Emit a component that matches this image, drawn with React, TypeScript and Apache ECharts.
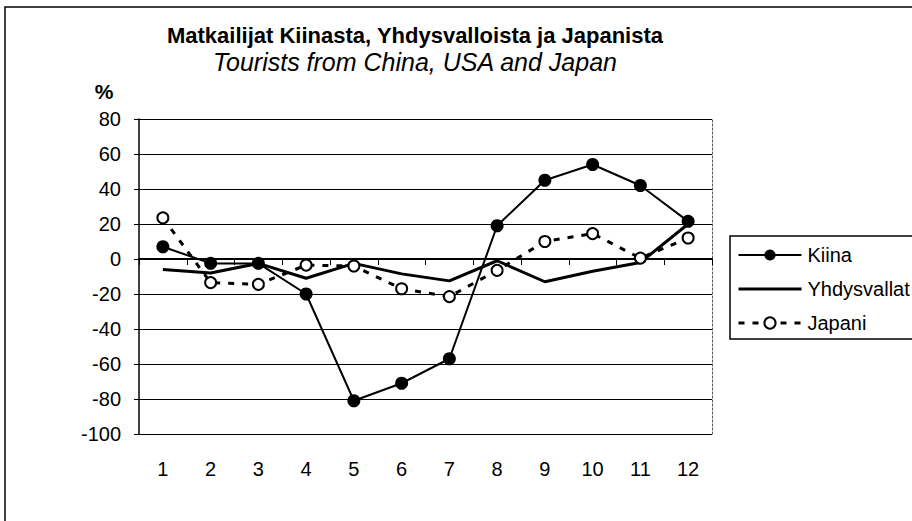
import React, { useEffect, useRef } from "react";
import * as echarts from "echarts";

const months = ["1", "2", "3", "4", "5", "6", "7", "8", "9", "10", "11", "12"];
const kiina = [7, -2.5, -2.5, -20, -81, -71, -57, 19, 45, 54, 42, 21.5];
const yhdysvallat = [-6, -8, -2.5, -11, -2.5, -8.5, -12.5, -1, -13, -7, -2, 20];
const japani = [23.5, -13.5, -14.5, -3.5, -4, -17, -21.5, -6.5, 10, 14.5, 0.5, 12];
const seriesNames = ["Kiina", "Yhdysvallat", "Japani"];
const yMin = -100;
const yMax = 80;
const yStep = 20;
const titleText = "Matkailijat Kiinasta, Yhdysvalloista ja Japanista";
const subtitleText = "Tourists from China, USA and Japan";
const unitText = "%";

export default function App() {
  const ref = useRef<HTMLDivElement>(null);
  useEffect(() => {
    const chart = echarts.init(ref.current!, null, { renderer: "svg" });
    const font = "'Liberation Sans', Arial, Helvetica, sans-serif";
    chart.setOption({
      animation: false,
      backgroundColor: "#fff",
      textStyle: { fontFamily: font, color: "#000" },
      grid: { left: 139, right: 200, top: 119, bottom: 87 },
      xAxis: {
        type: "category",
        data: months,
        boundaryGap: true,
        axisLine: { show: true, lineStyle: { color: "#000", width: 2 } },
        axisTick: { show: true, length: 6, alignWithLabel: false, lineStyle: { color: "#000", width: 1 } },
        axisLabel: { color: "#000", fontSize: 20, margin: 25, fontFamily: font },
        splitLine: { show: false },
      },
      yAxis: [
        {
          type: "value",
          min: yMin,
          max: yMax,
          interval: yStep,
          axisLine: { show: true, lineStyle: { color: "#000", width: 1.5 } },
          axisTick: { show: true, length: 5, inside: false, lineStyle: { color: "#000", width: 1 } },
          axisLabel: { color: "#000", fontSize: 20, margin: 18, fontFamily: font },
          splitLine: { show: true, lineStyle: { color: "#000", width: 1 } },
        },
        {
          type: "value",
          position: "right",
          min: yMin,
          max: yMax,
          interval: yStep,
          axisLine: { show: true, lineStyle: { color: "#555", width: 1, type: [2, 2] } },
          axisTick: { show: false },
          axisLabel: { show: false },
          splitLine: { show: false },
        },
      ],
      legend: {
        orient: "vertical",
        left: 730,
        top: 236,
        itemWidth: 63,
        itemHeight: 14,
        itemGap: 14,
        padding: [9, 30, 6, 7],
        borderColor: "#000",
        borderWidth: 1.5,
        backgroundColor: "#fff",
        textStyle: { color: "#000", fontSize: 20, lineHeight: 20, fontFamily: font, padding: [0, 0, 0, 1] },
        lineStyle: { width: "inherit" },
        data: [
          { name: seriesNames[0] },
          { name: seriesNames[1], icon: "path://M0,0L63,0L63,3L0,3Z" },
          { name: seriesNames[2] },
        ],
      },
      graphic: [
        {
          type: "rect",
          shape: { x: 5, y: 7, width: 1200, height: 1000 },
          style: { fill: "none", stroke: "#000", lineWidth: 1.5 },
          silent: true,
          z: -1,
        },
        {
          type: "text",
          x: 415,
          y: 35,
          style: {
            text: titleText,
            fontFamily: font,
            fontSize: 22,
            fontWeight: "bold",
            fill: "#000",
            textAlign: "center",
            textVerticalAlign: "middle",
          },
        },
        {
          type: "text",
          x: 415,
          y: 62,
          style: {
            text: subtitleText,
            fontFamily: font,
            fontSize: 25,
            fontStyle: "italic",
            fill: "#000",
            textAlign: "center",
            textVerticalAlign: "middle",
          },
        },
        {
          type: "text",
          x: 104,
          y: 91,
          style: {
            text: unitText,
            fontFamily: font,
            fontSize: 21,
            fontWeight: "bold",
            fill: "#000",
            textAlign: "center",
            textVerticalAlign: "middle",
          },
        },
      ],
      series: [
        {
          name: seriesNames[0],
          type: "line",
          data: kiina,
          symbol: "circle",
          symbolSize: 13,
          lineStyle: { color: "#000", width: 2 },
          itemStyle: { color: "#000" },
          z: 3,
        },
        {
          name: seriesNames[1],
          type: "line",
          data: yhdysvallat,
          symbol: "none",
          lineStyle: { color: "#000", width: 3 },
          itemStyle: { color: "#000" },
          z: 2,
        },
        {
          name: seriesNames[2],
          type: "line",
          data: japani,
          symbol: "circle",
          symbolSize: 11,
          lineStyle: { color: "#000", width: 3, type: [6, 8] },
          itemStyle: { color: "#fff", borderColor: "#000", borderWidth: 2 },
          z: 4,
        },
      ],
    });
    return () => chart.dispose();
  }, []);
  return (
    <div
      ref={ref}
      style={{ position: "fixed", left: 0, top: 0, width: 912, height: 521, background: "#fff" }}
    />
  );
}
